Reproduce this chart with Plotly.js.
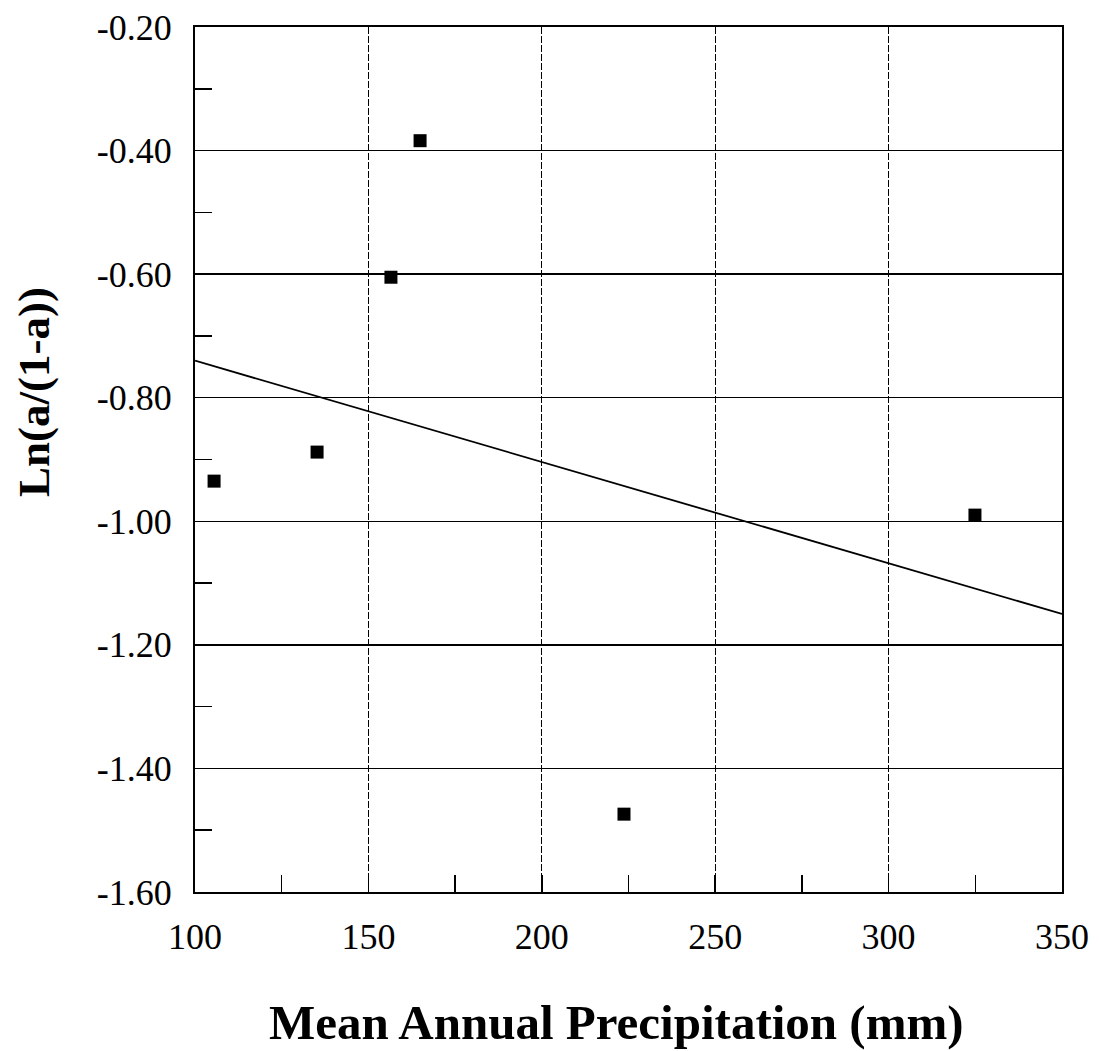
<!DOCTYPE html>
<html>
<head>
<meta charset="utf-8">
<script src="https://cdn.plot.ly/plotly-3.0.1.min.js"></script>
<style>
  html, body { margin: 0; padding: 0; background: #fff; }
  #chart { width: 1099px; height: 1051px; }
</style>
</head>
<body>
<div id="chart"></div>
<script>
// Observed points
const precip = [105.5, 135.2, 156.5, 164.9, 223.7, 324.9];
const lnRatio = [-0.935, -0.888, -0.605, -0.384, -1.474, -0.990];

// Fitted trend line (at the axis ends)
const fitX = [100, 350];
const fitY = [-0.74, -1.15];

// Axis ticks
const xTicks = [100, 150, 200, 250, 300, 350];
const xTickText = ['100', '150', '200', '250', '300', '350'];
const yTicks = [-0.2, -0.4, -0.6, -0.8, -1.0, -1.2, -1.4, -1.6];
const yTickText = ['-0.20', '-0.40', '-0.60', '-0.80', '-1.00', '-1.20', '-1.40', '-1.60'];

const xTitle = 'Mean Annual Precipitation (mm)';
const yTitle = 'Ln(a/(1-a))';

const serif = '"Liberation Serif", "Times New Roman", serif';

const traces = [
  {
    x: fitX, y: fitY, type: 'scatter', mode: 'lines',
    line: { color: '#000', width: 1.8 },
    hoverinfo: 'skip', showlegend: false
  },
  {
    x: precip, y: lnRatio, type: 'scatter', mode: 'markers',
    marker: { symbol: 'square', size: 13, color: '#000' },
    showlegend: false
  }
];

const layout = {
  width: 1099, height: 1051,
  paper_bgcolor: '#fff', plot_bgcolor: '#fff',
  margin: { l: 195, r: 37, t: 27, b: 159 },
  showlegend: false,
  font: { family: serif, color: '#000' },
  xaxis: {
    range: [100, 350],
    tickmode: 'array', tickvals: xTicks, ticktext: xTickText,
    tickfont: { family: serif, size: 36, color: '#000' },
    ticks: 'inside', ticklen: 17, tickwidth: 1.5, tickcolor: '#000',
    ticklabelstandoff: 12,
    showgrid: true, gridcolor: '#000', gridwidth: 1.3, griddash: '7px,2px',
    showline: true, linecolor: '#000', linewidth: 2, mirror: true,
    zeroline: false,
    minor: { dtick: 25, tick0: 100, ticks: 'inside', ticklen: 17, tickwidth: 1.5, tickcolor: '#000', showgrid: false }
  },
  yaxis: {
    range: [-1.6, -0.2],
    tickmode: 'array', tickvals: yTicks, ticktext: yTickText,
    tickfont: { family: serif, size: 36, color: '#000' },
    ticks: 'inside', ticklen: 17, tickwidth: 1.5, tickcolor: '#000',
    ticklabelstandoff: 14,
    showgrid: true, gridcolor: '#000', gridwidth: 1.3,
    showline: true, linecolor: '#000', linewidth: 2, mirror: true,
    zeroline: false,
    minor: { dtick: 0.1, tick0: -0.2, ticks: 'inside', ticklen: 17, tickwidth: 1.5, tickcolor: '#000', showgrid: false }
  },
  annotations: [
    {
      text: '<b>' + xTitle + '</b>', xref: 'paper', yref: 'paper',
      x: 0.4867, y: -0.1514, xanchor: 'center', yanchor: 'middle',
      showarrow: false, font: { family: serif, size: 49, color: '#000' }
    },
    {
      text: '<b>' + yTitle + '</b>', xref: 'paper', yref: 'paper',
      x: -0.1857, y: 0.578, xanchor: 'center', yanchor: 'middle', textangle: -90,
      showarrow: false, font: { family: serif, size: 45, color: '#000' }
    }
  ]
};

Plotly.newPlot('chart', traces, layout, { displayModeBar: false, staticPlot: true });
</script>
</body>
</html>
